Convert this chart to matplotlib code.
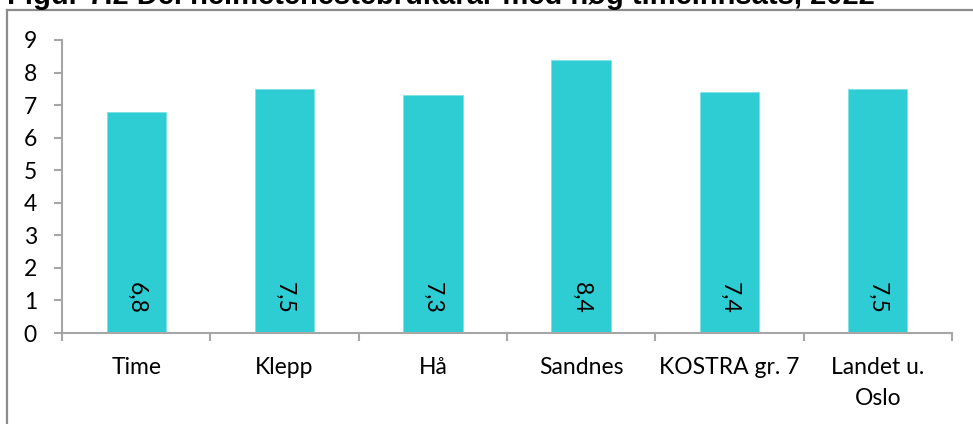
import matplotlib
matplotlib.use("Agg")
import matplotlib.pyplot as plt
from matplotlib.lines import Line2D
import numpy as np

# data
categories = ["Time", "Klepp", "Hå", "Sandnes", "KOSTRA gr. 7", "Landet u.\nOslo"]
values = [6.8, 7.5, 7.3, 8.4, 7.4, 7.5]
value_labels = ["6,8", "7,5", "7,3", "8,4", "7,4", "7,5"]
y_ticks = list(range(0, 10))

title = "Figur 7.2 Del heimetenestebrukarar med høg timeinnsats, 2022"

BAR_COLOR = "#2ECDD3"
AXIS_COLOR = "#A6A6A6"
FRAME_COLOR = "#8C8C8C"

plt.rcParams["font.family"] = ["Lato", "DejaVu Sans"]

fig = plt.figure(figsize=(9.73, 4.24), dpi=100)
W, H = 973, 424

# outer chart frame (only top and left edges visible in the crop)
fig.add_artist(Line2D([7 / W, 7 / W], [0, 1 - 10 / H], color=FRAME_COLOR, lw=1.6,
                      transform=fig.transFigure))
fig.add_artist(Line2D([7 / W, 1], [1 - 10 / H, 1 - 10 / H], color=FRAME_COLOR, lw=1.6,
                      transform=fig.transFigure))

# title, mostly cut off at the top edge as in the reference
fig.text(7 / W, 1 - 4 / H, title, family="Liberation Sans", fontweight="bold",
         fontsize=21, va="baseline", ha="left")

ax = fig.add_axes([62 / W, 1 - 333 / H, (952 - 62) / W, (333 - 40) / H])
x = np.arange(len(categories))
ax.bar(x, values, width=0.4, color=BAR_COLOR, edgecolor="#7FE3E6", linewidth=0.6, zorder=2)

for xi, lab in zip(x, value_labels):
    ax.text(xi, 1.07, lab, rotation=270, ha="center", va="center", fontsize=16.5, zorder=3)

ax.set_xlim(-0.5, len(categories) - 0.5)
ax.set_ylim(0, 9)
ax.set_yticks(y_ticks)
ax.set_yticklabels([str(t) for t in y_ticks])

ax.set_xticks(x)
ax.set_xticklabels(categories, fontsize=16.5, linespacing=1.6)
ax.set_xticks(np.arange(-0.5, len(categories), 1.0), minor=True)
ax.tick_params(axis="x", which="major", length=0, pad=17)
ax.tick_params(axis="x", which="minor", length=6, width=1.5, color=AXIS_COLOR, direction="out")
ax.tick_params(axis="y", which="major", length=6, width=1.5, color=AXIS_COLOR,
               direction="out", pad=12, labelsize=16.5)

for side in ["top", "right"]:
    ax.spines[side].set_visible(False)
for side in ["left", "bottom"]:
    ax.spines[side].set_color(AXIS_COLOR)
    ax.spines[side].set_linewidth(1.5)

fig.savefig("out.png", dpi=100)
